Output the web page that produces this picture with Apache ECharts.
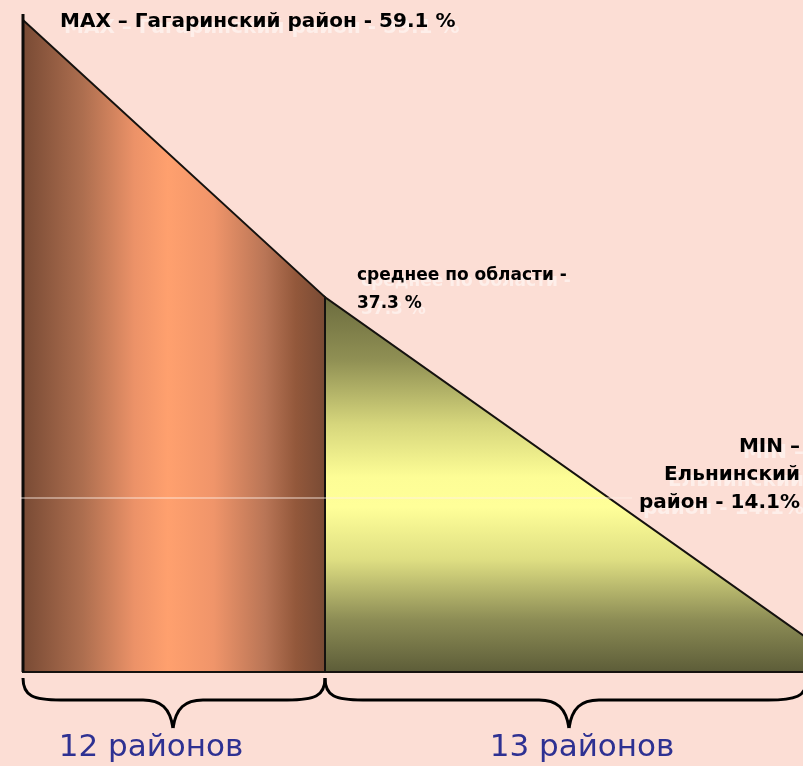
<!DOCTYPE html>
<html>
<head>
<meta charset="utf-8">
<style>
  html, body { margin: 0; padding: 0; background: #fcded5; }
  #chart { width: 803px; height: 766px; }
</style>
<script src="https://cdn.jsdelivr.net/npm/echarts/dist/echarts.min.js"></script>
</head>
<body>
<div id="chart"></div>
<script>
// districts below / above the regional average
const groupNames = ['12 районов', '13 районов'];
const groupCounts = [12, 13];
// max, regional average, min (%)
const keyValues = [59.1, 37.3, 14.1];
const keyLabels = [
  'MAX – Гагаринский район - 59.1 %',
  'среднее по области -\n37.3 %',
  'MIN –\nЕльнинский\nрайон - 14.1%'
];
const baseline = 7.8; // value at the bottom edge of the drawing

const total = groupCounts[0] + groupCounts[1];

const leftFill = new echarts.graphic.LinearGradient(0, 0, 1, 0, [
  { offset: 0, color: '#784a34' },
  { offset: 0.2, color: '#ad6e4f' },
  { offset: 0.37, color: '#ec9268' },
  { offset: 0.48, color: '#ffa06e' },
  { offset: 0.63, color: '#f0956a' },
  { offset: 0.8, color: '#b97556' },
  { offset: 0.9, color: '#93583b' },
  { offset: 1, color: '#784a34' }
]);
const rightFill = new echarts.graphic.LinearGradient(0, 0, 0, 1, [
  { offset: 0, color: '#6b6b3e' },
  { offset: 0.17, color: '#909054' },
  { offset: 0.34, color: '#d6d67c' },
  { offset: 0.48, color: '#fdfd96' },
  { offset: 0.56, color: '#ffff99' },
  { offset: 0.7, color: '#dede82' },
  { offset: 0.86, color: '#8c8c55' },
  { offset: 1, color: '#5c5c38' }
]);

function shape(fill, thickLeft) {
  return function (params, api) {
    const x0 = api.value(0), y0 = api.value(1), x1 = api.value(2), y1 = api.value(3);
    const pts = [
      api.coord([x0, baseline]),
      api.coord([x0, y0]),
      api.coord([x1, y1]),
      api.coord([x1, baseline])
    ];
    const children = [{
      type: 'polygon',
      shape: { points: pts },
      style: { fill: fill, stroke: '#15120f', lineWidth: 2 }
    }];
    if (thickLeft) {
      children.push({
        type: 'line',
        shape: { x1: pts[0][0], y1: pts[0][1], x2: pts[1][0], y2: pts[1][1] - 6 },
        style: { stroke: '#0d0b09', lineWidth: 3 }
      });
    }
    return { type: 'group', children: children };
  };
}

// curly brace from xs to xe, tip at xm
function brace(xs, xm, xe, yTop, yMid, yTip, endY) {
  const st = { stroke: '#000', lineWidth: 3, fill: null };
  const c = 30;
  return [
    { type: 'bezierCurve', z: 5, style: st,
      shape: { x1: xs, y1: yTop, x2: xs + c + 8, y2: yMid, cpx1: xs, cpy1: yMid - 4, cpx2: xs + 10, cpy2: yMid } },
    { type: 'line', z: 5, style: st, shape: { x1: xs + c + 8, y1: yMid, x2: xm - c, y2: yMid } },
    { type: 'bezierCurve', z: 5, style: st,
      shape: { x1: xm - c, y1: yMid, x2: xm, y2: yTip, cpx1: xm - 12, cpy1: yMid, cpx2: xm - 3, cpy2: yMid + 8 } },
    { type: 'bezierCurve', z: 5, style: st,
      shape: { x1: xm, y1: yTip, x2: xm + c, y2: yMid, cpx1: xm + 3, cpy1: yMid + 8, cpx2: xm + 12, cpy2: yMid } },
    { type: 'line', z: 5, style: st, shape: { x1: xm + c, y1: yMid, x2: xe - c - 8, y2: yMid } },
    { type: 'bezierCurve', z: 5, style: st,
      shape: { x1: xe - c - 8, y1: yMid, x2: xe, y2: endY, cpx1: xe - 10, cpy1: yMid, cpx2: xe, cpy2: yMid - 4 } }
  ];
}

function label(str, x, y, align, lh, font, color, ghost) {
  const out = [];
  str.split('\n').forEach(function (line, i) {
    if (ghost) {
      // pale ghost copy behind the text
      out.push({
        type: 'text', z: 10,
        style: { text: line, x: x + 4, y: y + i * lh + 6, fill: 'rgba(255,255,255,0.5)',
          font: font, textAlign: align, textVerticalAlign: 'middle' }
      });
    }
    out.push({
      type: 'text', z: 11,
      style: { text: line, x: x, y: y + i * lh, fill: color,
        font: font, textAlign: align, textVerticalAlign: 'middle' }
    });
  });
  return out;
}

const groupFont = '31px "DejaVu Sans"';

const chart = echarts.init(document.getElementById('chart'));
chart.setOption({
  backgroundColor: '#fcded5',
  animation: false,
  grid: [
    { left: 23, top: 20, width: 302, height: 652, outerBoundsMode: 'none' },
    { left: 325, top: 20, width: 530, height: 652, outerBoundsMode: 'none' }
  ],
  xAxis: [
    { gridIndex: 0, type: 'value', min: 0, max: groupCounts[0], show: false },
    { gridIndex: 1, type: 'value', min: groupCounts[0], max: total, show: false }
  ],
  yAxis: [
    { gridIndex: 0, type: 'value', min: baseline, max: keyValues[0], show: false },
    { gridIndex: 1, type: 'value', min: baseline, max: keyValues[0], show: false }
  ],
  series: [
    {
      type: 'custom', xAxisIndex: 0, yAxisIndex: 0,
      renderItem: shape(leftFill, true),
      data: [[0, keyValues[0], groupCounts[0], keyValues[1]]]
    },
    {
      type: 'custom', xAxisIndex: 1, yAxisIndex: 1,
      renderItem: shape(rightFill, false),
      data: [[groupCounts[0], keyValues[1], total, baseline]]
    }
  ],
  graphic: [
    {
      type: 'line', z: 5,
      shape: { x1: 20, y1: 498, x2: 632, y2: 498 },
      style: { stroke: 'rgba(255,240,232,0.85)', lineWidth: 1 }
    }
  ]
    .concat(brace(23, 173, 325, 678, 700, 728, 678))
    .concat(brace(325, 569, 806, 678, 700, 728, 682))
    .concat(label(keyLabels[0], 60, 22, 'left', 27, 'bold 20px "DejaVu Sans"', '#000', true))
    .concat(label(keyLabels[1], 357, 276, 'left', 28, 'bold 17px "DejaVu Sans"', '#000', true))
    .concat(label(keyLabels[2], 800, 447, 'right', 28, 'bold 20px "DejaVu Sans"', '#000', true))
    .concat(label(groupNames[0], 151, 748, 'center', 30, groupFont, '#2e3192', false))
    .concat(label(groupNames[1], 582, 748, 'center', 30, groupFont, '#2e3192', false))
});
</script>
</body>
</html>
